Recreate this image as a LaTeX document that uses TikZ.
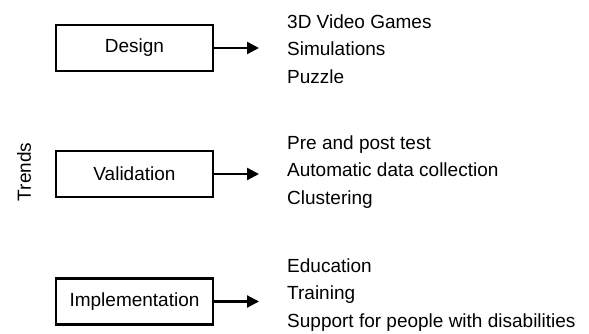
\documentclass[tikz,border=0pt]{standalone}
\usepackage{fontspec}
\setmainfont{Liberation Sans}
\usetikzlibrary{arrows.meta}

\tikzset{
	trendbox/.style={draw, line width=2.2pt, minimum width=157pt, minimum height=46pt, inner sep=0pt, font=\fontsize{19}{23}\selectfont},
	itemlist/.style={anchor=west, align=left, inner xsep=28pt, inner ysep=0pt, font=\fontsize{19}{27.5}\selectfont},
	link/.style={line width=2.2pt, -{Triangle[length=12pt,width=12pt]}}
}

\begin{document}
\begin{tikzpicture}[x=1pt,y=1pt]
\useasboundingbox (0,0) rectangle (589,334);

\node [trendbox] (design) at (134.5, 286) {Design};
\node [trendbox] (valid) at (134.5, 160) {Validation};
\node [trendbox] (impl) at (134.5, 32.5) {Implementation};

\node [rotate=90, font=\fontsize{19}{23}\selectfont] (trends) at (24, 162) {Trends};

%lists on the right
\node [itemlist] (designlist) at (259, 285) {3D Video Games\\Simulations\\Puzzle};
\node [itemlist] (validlist) at (259, 162) {Pre and post test\\Automatic data collection\\Clustering};
\node [itemlist] (impllist) at (259, 39) {Education\\Training\\Support for people with disabilities};

\draw [link] (design.east) -- (design.east -| designlist.west);
\draw [link] (valid.east) -- (valid.east -| validlist.west);
\draw [link] (impl.east) -- (impl.east -| impllist.west);

\end{tikzpicture}
\end{document}
